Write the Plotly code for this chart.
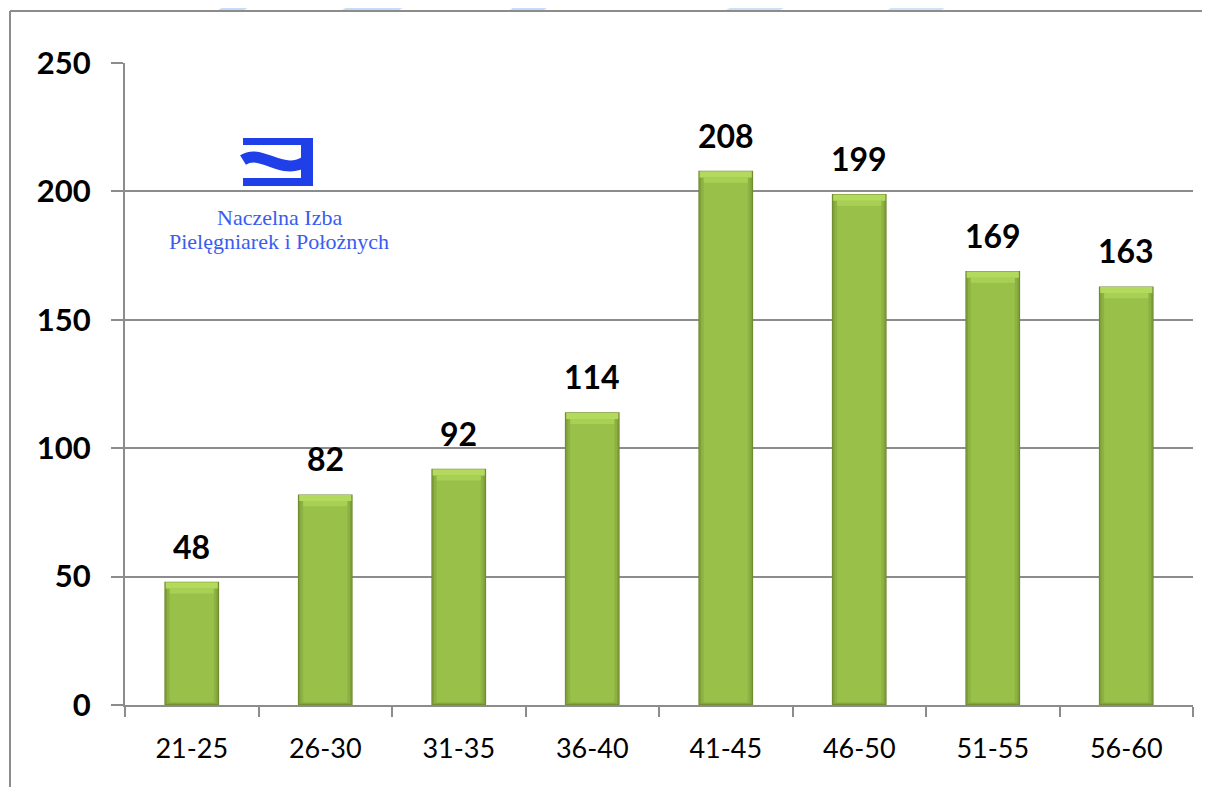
import plotly.graph_objects as go

# ---- data ----
categories = ["21-25", "26-30", "31-35", "36-40", "41-45", "46-50", "51-55", "56-60"]
values = [48, 82, 92, 114, 208, 199, 169, 163]
y_ticks = [0, 50, 100, 150, 200, 250]

# page offset of the default body margin
OX, OY = 8, 8
W, H = 1210 - OX, 787 - OY
L, R, T, B = 125, 1193, 63, 705  # plot area in screen pixels


def px(x):
    return (x - L) / (R - L)


def py(y):
    return (B - y) / (B - T)


fig = go.Figure()

# layered bars to imitate the bevelled gradient
layers = [(0.41, "#6f8a30", 0.0, 0.0), (0.395, "#80a03a", 0.3, 0.4),
          (0.37, "#8db243", 0.7, 0.9), (0.33, "#99c14a", 1.1, 1.4)]
for w, col, b0, top_cut in layers:
    fig.add_trace(go.Bar(x=categories, y=[v - b0 - top_cut for v in values],
                         base=[b0] * len(values), width=w,
                         marker=dict(color=col, line=dict(width=0)),
                         hoverinfo="skip", showlegend=False))
# top bevel highlight
fig.add_trace(go.Bar(x=categories, y=[2.4] * len(values), base=[v - 2.6 for v in values], width=0.39,
                     marker=dict(color="#b4da5d", line=dict(width=0)),
                     hoverinfo="skip", showlegend=False))
fig.add_trace(go.Bar(x=categories, y=[2.0] * len(values), base=[v - 4.6 for v in values], width=0.33,
                     marker=dict(color="#a8d055", line=dict(width=0)),
                     hoverinfo="skip", showlegend=False))

annotations = []
for c, v in zip(categories, values):
    annotations.append(dict(x=c, y=v, xref="x", yref="y", text=f"<b>{v}</b>",
                            showarrow=False, yanchor="bottom", yshift=14,
                            font=dict(family="Lato", size=32, color="#000000")))

# logo text
annotations.append(dict(x=px(279), y=py(217), xref="paper", yref="paper",
                        text="Naczelna Izba", showarrow=False,
                        font=dict(family="Liberation Serif", size=22, color="#3a5cf0"),
                        xanchor="center", yanchor="middle"))
annotations.append(dict(x=px(279), y=py(242), xref="paper", yref="paper",
                        text="Pielęgniarek i Położnych", showarrow=False,
                        font=dict(family="Liberation Serif", size=22, color="#3a5cf0"),
                        xanchor="center", yanchor="middle"))

shapes = []
# logo white background over gridline
shapes.append(dict(type="rect", xref="paper", yref="paper",
                   x0=px(170), x1=px(389), y0=py(255), y1=py(128),
                   fillcolor="white", line=dict(width=0), layer="between"))
blue = "#1f3fe8"
# top bar, bottom bar, right vertical
shapes.append(dict(type="rect", xref="paper", yref="paper", x0=px(243), x1=px(313),
                   y0=py(145), y1=py(138), fillcolor=blue, line=dict(width=0), layer="above"))
shapes.append(dict(type="rect", xref="paper", yref="paper", x0=px(243), x1=px(313),
                   y0=py(186), y1=py(178), fillcolor=blue, line=dict(width=0), layer="above"))
shapes.append(dict(type="rect", xref="paper", yref="paper", x0=px(301), x1=px(313),
                   y0=py(186), y1=py(138), fillcolor=blue, line=dict(width=0), layer="above"))
# wave
wave = (f"M {px(243)},{py(160)} C {px(262)},{py(148)} {px(282)},{py(177)} {px(306)},{py(161)}")
shapes.append(dict(type="path", xref="paper", yref="paper", path=wave,
                   line=dict(color=blue, width=11), layer="above"))

# outer border (left and top)
shapes.append(dict(type="line", xref="paper", yref="paper", x0=px(10), x1=px(10),
                   y0=py(11), y1=py(800), line=dict(color="#8c8c8c", width=2)))
shapes.append(dict(type="line", xref="paper", yref="paper", x0=px(10), x1=px(1215),
                   y0=py(11), y1=py(11), line=dict(color="#8c8c8c", width=2)))

# faint watermark strokes at top
wm = [(218, 236, 262, 244, "#c6dcf8"), (342, 360, 417, 399, "#c6dcf8"),
      (510, 524, 558, 544, "#c6dcf8"), (726, 745, 799, 780, "#cfe0f5"),
      (888, 900, 954, 942, "#d3e3f7")]
for a, b, c, d, col in wm:
    path = f"M {px(a)},{py(10)} L {px(b)},{py(0)} L {px(c)},{py(0)} L {px(d)},{py(10)} Z"
    shapes.append(dict(type="path", xref="paper", yref="paper", path=path,
                       fillcolor=col, line=dict(width=0), layer="below"))

fig.update_layout(
    width=W, height=H,
    margin=dict(l=L - OX, r=1210 - R, t=T - OY, b=787 - B, pad=0),
    paper_bgcolor="white", plot_bgcolor="white",
    barmode="overlay", bargap=0.5,
    showlegend=False,
    annotations=annotations, shapes=shapes,
    xaxis=dict(type="category", categoryorder="array", categoryarray=categories,
               showline=True, linecolor="#8c8c8c", linewidth=2,
               ticks="outside", tickson="boundaries", ticklen=10, tickcolor="#8c8c8c", tickwidth=2,
               tickfont=dict(family="Lato", size=27, color="#000000"),
               ticklabelstandoff=19, showgrid=False, zeroline=False),
    yaxis=dict(range=[0, 250], tickvals=y_ticks, ticktext=[f"<b>{t}</b>" for t in y_ticks],
               showline=True, linecolor="#8c8c8c", linewidth=2,
               ticks="outside", ticklen=12, tickcolor="#8c8c8c", tickwidth=2,
               tickfont=dict(family="Lato", size=31, color="#000000"),
               ticklabelstandoff=14,
               showgrid=True, gridcolor="#8c8c8c", gridwidth=2, zeroline=False),
)

fig.write_html("out.html")
